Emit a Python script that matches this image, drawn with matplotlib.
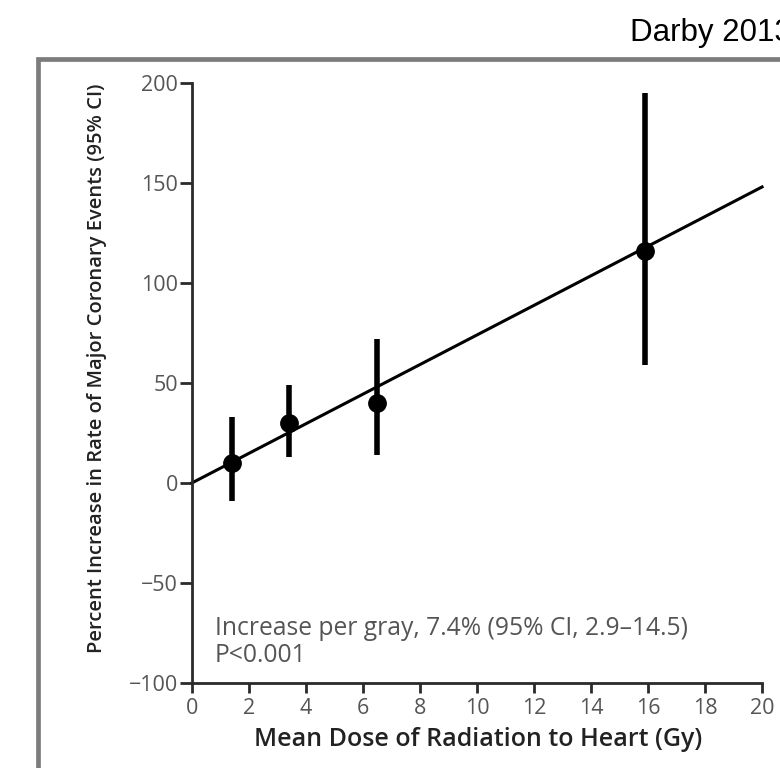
import matplotlib
matplotlib.use('Agg')
import matplotlib.pyplot as plt
from matplotlib.patches import Rectangle
import numpy as np

# Darby 2013 - dose response for major coronary events
dose = [1.4, 3.4, 6.5, 15.9]
pct_increase = [10, 30, 40, 116]
ci_low = [-9, 13, 14, 59]
ci_high = [33, 49, 72, 195]
slope_per_gray = 7.4

x_ticks = [0, 2, 4, 6, 8, 10, 12, 14, 16, 18, 20]
y_ticks = [-100, -50, 0, 50, 100, 150, 200]
y_tick_labels = ['\u2212100', '\u221250', '0', '50', '100', '150', '200']

tick_font = ['Open Sans', 'DejaVu Sans']

fig = plt.figure(figsize=(7.8, 7.68), dpi=100)
ax = fig.add_axes([0.246, 0.1107, 0.731, 0.7813])

# gray frame around the panel (runs off right and bottom edge)
fig.patches.append(Rectangle((38 / 780, -0.1), 1.2, 0.1 + (1 - 59 / 768), transform=fig.transFigure,
                             fill=False, edgecolor='#7c7c7c', linewidth=3.4))
# title is cut at the right edge in the original too
fig.text(630 / 780, 1 - 33 / 768, 'Darby 2013', fontsize=22.5, family='Liberation Sans',
         ha='left', va='center', color='black')

# fitted line through origin
x_line = np.array([x_ticks[0], x_ticks[-1]])
ax.plot(x_line, slope_per_gray * x_line, color='black', linewidth=2.2, clip_on=False, zorder=2)

# error bars and points
dose_arr = np.array(dose)
pct_arr = np.array(pct_increase)
yerr = [pct_arr - np.array(ci_low), np.array(ci_high) - pct_arr]
ax.errorbar(dose_arr, pct_arr, yerr=yerr, fmt='o', color='black', ecolor='black',
            elinewidth=4, capsize=0, markersize=12.5, zorder=3, clip_on=False)

ax.set_xlim(0, 20)
ax.set_ylim(-100, 200)
ax.set_xticks(x_ticks)
ax.set_yticks(y_ticks)
ax.set_yticklabels(y_tick_labels)

for s in ['top', 'right']:
    ax.spines[s].set_visible(False)
for s in ['left', 'bottom']:
    ax.spines[s].set_linewidth(2)
    ax.spines[s].set_color('#2a2a2a')

ax.tick_params(axis='both', direction='out', width=2, color='#2a2a2a',
               labelsize=15.5, labelcolor='#555555')
ax.tick_params(axis='x', length=7, pad=4)
ax.tick_params(axis='y', length=9, pad=1)
for lab in ax.get_xticklabels() + ax.get_yticklabels():
    lab.set_family(tick_font)

ax.set_xlabel('Mean Dose of Radiation to Heart (Gy)', fontsize=18, fontweight='semibold',
              family=tick_font, color='#222222')
ax.xaxis.set_label_coords(0.502, -0.074)
ax.set_ylabel('Percent Increase in Rate of Major Coronary Events (95% CI)', fontsize=14.5,
              fontweight='semibold', family=tick_font, color='#222222')
ax.yaxis.set_label_coords(-0.149, 0.525)

ax.text(0.8, -73, 'Increase per gray, 7.4% (95% CI, 2.9\u201314.5)', fontsize=17.7,
        family=tick_font, color='#555555', ha='left', va='center')
ax.text(0.8, -86.5, 'P<0.001', fontsize=17.7, family=tick_font, color='#555555',
        ha='left', va='center')

fig.savefig('out.png', dpi=100)
